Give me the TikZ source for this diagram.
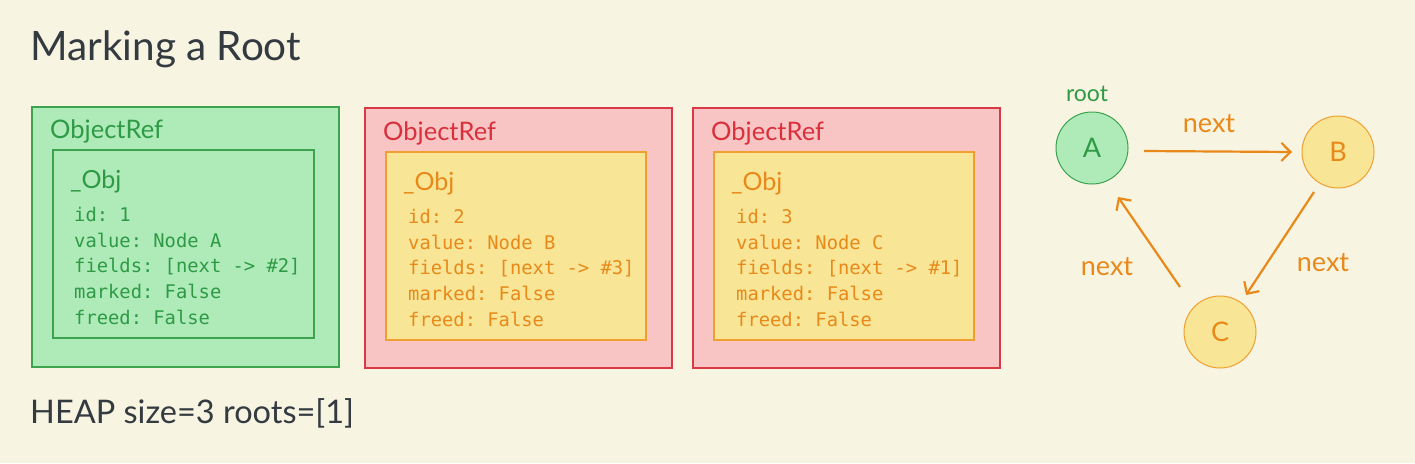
\documentclass[tikz,border=0pt]{standalone}
\usepackage{fontspec}
\setmainfont{Lato}
\setmonofont{DejaVu Sans Mono}
\usetikzlibrary{arrows.meta}
\definecolor{bg}{HTML}{F7F4E2}
\definecolor{gfill}{HTML}{AEEBB8}
\definecolor{gline}{HTML}{3DA34F}
\definecolor{gtext}{HTML}{2E9A45}
\definecolor{rfill}{HTML}{F8C4C4}
\definecolor{rline}{HTML}{D93A45}
\definecolor{rtext}{HTML}{D9303C}
\definecolor{yfill}{HTML}{F8E596}
\definecolor{oline}{HTML}{F0A030}
\definecolor{otext}{HTML}{E8891A}
\definecolor{dark}{HTML}{333A40}
\tikzset{
  refname/.style={anchor=base west, font=\fontsize{25.5}{28}\selectfont, inner sep=0pt},
  objname/.style={anchor=base west, font=\fontsize{25}{28}\selectfont, inner sep=0pt},
  fieldtxt/.style={anchor=base west, font=\ttfamily\fontsize{18.8}{22}\selectfont, inner sep=0pt},
  gnode/.style={circle, minimum size=72pt, inner sep=0pt, line width=1pt, font=\fontsize{27}{30}\selectfont},
  edge/.style={draw=otext, line width=2.2pt, -{Straight Barb[length=9pt,width=18pt,line width=2.2pt]}},
  elabel/.style={text=otext, font=\fontsize{27}{30}\selectfont, inner sep=0pt}
}
\newcommand{\uscore}{{\char"5F}}
\begin{document}
\begin{tikzpicture}[x=1pt,y=-1pt]
\fill[bg] (0,0) rectangle (1415,463);
\useasboundingbox (0,0) rectangle (1415,463);

\node[anchor=base west, inner sep=0pt, text=dark, font=\fontsize{40.5}{44}\selectfont] (title) at (30,60) {Marking a Root};

% Box 1 (green)
\draw[fill=gfill, draw=gline, line width=1.2pt] (32,107) rectangle (339,367);
\draw[fill=gfill, draw=gline, line width=1.2pt] (53,150) rectangle (314,338);
\node[refname, text=gtext] (r1) at (50,138) {ObjectRef};
\node[objname, text=gtext] (o1) at (70,188) {\uscore Obj};
\node[fieldtxt, text=gtext] (f1a) at (74,221) {id: 1};
\node[fieldtxt, text=gtext] (f1b) at (74,247) {value: Node A};
\node[fieldtxt, text=gtext] (f1c) at (74,272) {fields: [next -> \#2]};
\node[fieldtxt, text=gtext] (f1d) at (74,298) {marked: False};
\node[fieldtxt, text=gtext] (f1e) at (74,324) {freed: False};

% Box 2 (red/yellow)
\draw[fill=rfill, draw=rline, line width=1.2pt] (365,108) rectangle (672,368);
\draw[fill=yfill, draw=oline, line width=1.2pt] (386,152) rectangle (646,340);
\node[refname, text=rtext] (r2) at (383,140) {ObjectRef};
\node[objname, text=otext] (o2) at (403,190) {\uscore Obj};
\node[fieldtxt, text=otext] (f2a) at (408,223) {id: 2};
\node[fieldtxt, text=otext] (f2b) at (408,249) {value: Node B};
\node[fieldtxt, text=otext] (f2c) at (408,274) {fields: [next -> \#3]};
\node[fieldtxt, text=otext] (f2d) at (408,300) {marked: False};
\node[fieldtxt, text=otext] (f2e) at (408,326) {freed: False};

% Box 3
\draw[fill=rfill, draw=rline, line width=1.2pt] (693,108) rectangle (1000,368);
\draw[fill=yfill, draw=oline, line width=1.2pt] (714,152) rectangle (974,340);
\node[refname, text=rtext] (r3) at (711,140) {ObjectRef};
\node[objname, text=otext] (o3) at (731,190) {\uscore Obj};
\node[fieldtxt, text=otext] (f3a) at (736,223) {id: 3};
\node[fieldtxt, text=otext] (f3b) at (736,249) {value: Node C};
\node[fieldtxt, text=otext] (f3c) at (736,274) {fields: [next -> \#1]};
\node[fieldtxt, text=otext] (f3d) at (736,300) {marked: False};
\node[fieldtxt, text=otext] (f3e) at (736,326) {freed: False};

% Graph
\node[gnode, fill=gfill, draw=gline, text=gtext] (A) at (1092,148) {A};
\node[gnode, fill=yfill, draw=oline, text=otext] (B) at (1338,152) {B};
\node[gnode, fill=yfill, draw=oline, text=otext] (C) at (1220,332) {C};
\node[text=gtext, inner sep=0pt, font=\fontsize{23}{26}\selectfont] (root) at (1087,94) {root};

\path (A) ++(52,3) coordinate (a0);
\path (B) ++(-46,0) coordinate (b0);
\path (B) ++(-24,40) coordinate (b1);
\path (C) ++(26,-37) coordinate (c1);
\path (C) ++(-40,-45) coordinate (c2);
\path (A) ++(26,49) coordinate (a1);
\draw[edge] (a0) -- (b0);
\draw[edge] (b1) -- (c1);
\draw[edge] (c2) -- (a1);
\node[elabel] (l1) at (1209,124) {next};
\node[elabel] (l2) at (1323,263) {next};
\node[elabel] (l3) at (1107,267) {next};

\node[anchor=base west, inner sep=0pt, text=dark, font=\fontsize{32.5}{36}\selectfont] (heap) at (30,423) {HEAP size=3 roots=[1]};
\end{tikzpicture}
\end{document}
